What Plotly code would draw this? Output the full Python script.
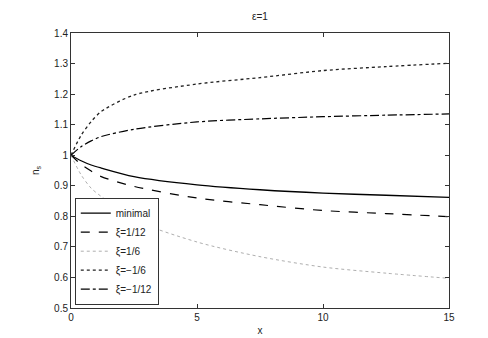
import plotly.graph_objects as go

# sampled x positions
x_vals = [0, 0.4, 0.8, 1.2, 2.5, 5, 7.5, 10, 12.5, 15]

# n_s curves
minimal = [1.0, 0.982, 0.968, 0.958, 0.930, 0.903, 0.887, 0.876, 0.869, 0.862]
xi_p1_12 = [1.0, 0.970, 0.948, 0.930, 0.898, 0.860, 0.838, 0.819, 0.809, 0.799]
xi_p1_6 = [1.0, 0.936, 0.892, 0.865, 0.789, 0.716, 0.668, 0.634, 0.614, 0.597]
xi_m1_6 = [1.0, 1.065, 1.110, 1.143, 1.197, 1.233, 1.254, 1.277, 1.290, 1.301]
xi_m1_12 = [1.0, 1.028, 1.047, 1.061, 1.085, 1.109, 1.119, 1.126, 1.131, 1.135]

y_ticks = [0.5, 0.6, 0.7, 0.8, 0.9, 1.0, 1.1, 1.2, 1.3, 1.4]
y_labels = ['0.5', '0.6', '0.7', '0.8', '0.9', '1', '1.1', '1.2', '1.3', '1.4']
x_ticks = [0, 5, 10, 15]

fig = go.Figure()

series = [
    ('minimal', minimal, dict(color='black', width=1.3, dash='solid')),
    ('\u03be=1/12', xi_p1_12, dict(color='black', width=1.2, dash='dash')),
    ('\u03be=1/6', xi_p1_6, dict(color='#999999', width=0.8, dash='dot')),
    ('\u03be=\u22121/6', xi_m1_6, dict(color='#222222', width=1.3, dash='dot')),
    ('\u03be=\u22121/12', xi_m1_12, dict(color='black', width=1.2, dash='dashdot')),
]

for name, ys, line in series:
    fig.add_trace(go.Scatter(
        x=x_vals, y=ys, name=name, mode='lines',
        line=dict(shape='spline', smoothing=0.8, **line)
    ))

axis_style = dict(
    showline=True, linecolor='#333333', linewidth=1, mirror='ticks',
    ticks='inside', ticklen=4, tickcolor='#333333',
    showgrid=False, zeroline=False,
    tickfont=dict(size=10, color='#222222')
)

fig.update_layout(
    width=488, height=338,
    margin=dict(l=63, r=47, t=25, b=38),
    paper_bgcolor='white', plot_bgcolor='white',
    font=dict(family='Liberation Sans, Arial, sans-serif', size=10, color='#222222'),
    title=dict(text='\u03b5=1', x=0.5, xref='paper', y=0.975, yanchor='middle',
               font=dict(size=10)),
    xaxis=dict(range=[0, 15], tickvals=x_ticks,
               title=dict(text='x', standoff=4, font=dict(size=10)), **axis_style),
    yaxis=dict(range=[0.5, 1.4], tickvals=y_ticks, ticktext=y_labels,
               title=dict(text='n<sub>s</sub>', standoff=12, font=dict(size=10)), **axis_style),
    legend=dict(x=0.01, y=0.012, xanchor='left', yanchor='bottom',
                bgcolor='white', bordercolor='#333333', borderwidth=1,
                font=dict(size=10), tracegroupgap=0, itemwidth=30),
    showlegend=True,
)

fig.write_html("out.html")
